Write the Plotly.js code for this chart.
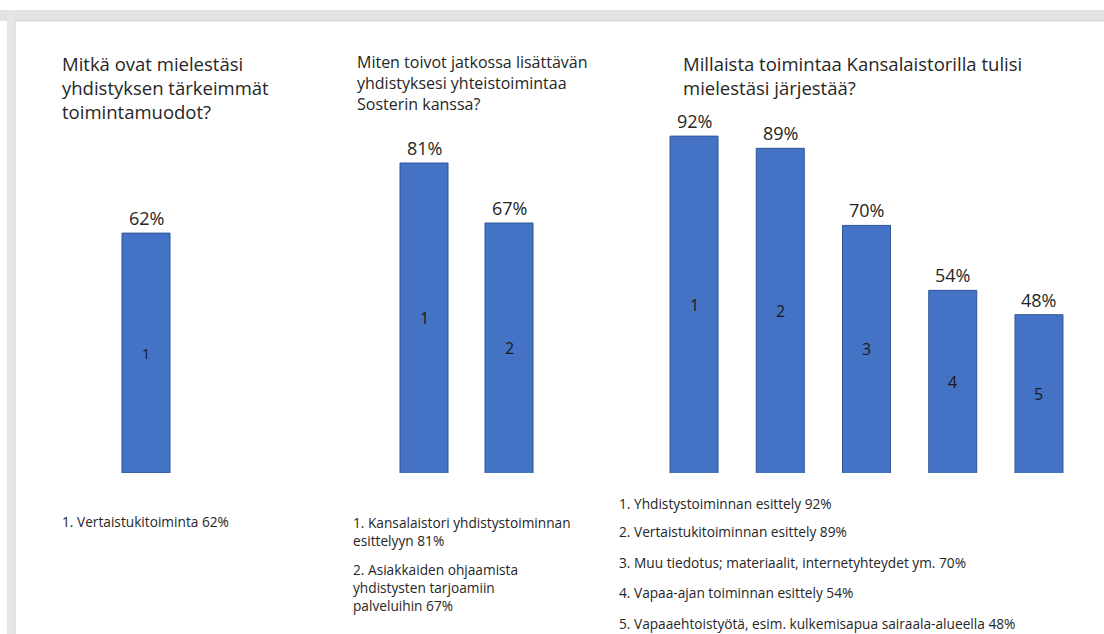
<!DOCTYPE html>
<html>
<head>
<meta charset="utf-8">
<script src="https://cdn.plot.ly/plotly-3.0.1.min.js"></script>
<style>
  html, body { margin: 0; padding: 0; background: #ffffff; }
  #chart { width: 1104px; height: 634px; }
</style>
</head>
<body>
<div id="chart"></div>
<script>
// ---- Data ----
const title1 = 'Mitkä ovat mielestäsi<br>yhdistyksen tärkeimmät<br>toimintamuodot?';
const categories1 = ['1'];
const values1 = [62];
const labels1 = ['Vertaistukitoiminta'];

const title2 = 'Miten toivot jatkossa lisättävän<br>yhdistyksesi yhteistoimintaa<br>Sosterin kanssa?';
const categories2 = ['1', '2'];
const values2 = [81, 67];
const labels2 = ['Kansalaistori yhdistystoiminnan<br>esittelyyn', 'Asiakkaiden ohjaamista<br>yhdistysten tarjoamiin<br>palveluihin'];

const title3 = 'Millaista toimintaa Kansalaistorilla tulisi<br>mielestäsi järjestää?';
const categories3 = ['1', '2', '3', '4', '5'];
const values3 = [92, 89, 70, 54, 48];
const labels3 = ['Yhdistystoiminnan esittely', 'Vertaistukitoiminnan esittely', 'Muu tiedotus; materiaalit, internetyhteydet ym.', 'Vapaa-ajan toiminnan esittely', 'Vapaaehtoistyötä, esim. kulkemisapua sairaala-alueella'];

// ---- Layout helpers ----
const W = 1104, H = 634;
const px = x => x / W;
const py = y => 1 - y / H;
const FONT = '"Open Sans", "Noto Sans", Lato, sans-serif';
const TXT = '#262626';
const BAR = '#4472C4';
const BAR_LINE = '#2F5597';

const panels = [
  { title: title1, cats: categories1, vals: values1, labels: labels1,
    xDom: [103, 189], yRange: [0, 96.4], width: 48 / 86, inSize: 14,
    titleX: 60, titleTop: 49, titleSize: 18.5,
    listX: 60, listTops: [510], listSize: 13.7 },
  { title: title2, cats: categories2, vals: values2, labels: labels2,
    xDom: [381.5, 551.5], yRange: [8.67, 95.7], width: 48 / 85, inSize: 16,
    titleX: 355, titleTop: 49, titleSize: 16,
    listX: 350.5, listTops: [510.5, 557.5], listSize: 13.7 },
  { title: title3, cats: categories3, vals: values3, labels: labels3,
    xDom: [650.9, 1082.1], yRange: [9, 100.9], width: 48 / 86.25, inSize: 16,
    titleX: 680.5, titleTop: 49, titleSize: 18.5,
    listX: 617, listTops: [492, 520, 550.5, 581, 611.5], listSize: 13.7 }
];

const plotTop = 100, plotBottom = 473;
const traces = [];
const annotations = [];
const layout = {
  width: W, height: H,
  margin: { l: 0, r: 0, t: 0, b: 0, pad: 0 },
  paper_bgcolor: '#ffffff',
  plot_bgcolor: 'rgba(0,0,0,0)',
  showlegend: false,
  font: { family: FONT, color: TXT },
  shapes: [
    // window frame (grey bands)
    { type: 'rect', xref: 'paper', yref: 'paper', x0: 0, x1: 1, y0: py(21), y1: py(10),
      fillcolor: '#e3e3e3', line: { width: 0 }, layer: 'below' },
    { type: 'rect', xref: 'paper', yref: 'paper', x0: px(7), x1: px(15), y0: 0, y1: py(10),
      fillcolor: '#e6e6e6', line: { width: 0 }, layer: 'below' },
    { type: 'line', xref: 'paper', yref: 'paper', x0: px(15), x1: 1, y0: py(21), y1: py(21),
      line: { color: '#d4d4d4', width: 1 } },
    { type: 'line', xref: 'paper', yref: 'paper', x0: px(15), x1: px(15), y0: 0, y1: py(21),
      line: { color: '#d4d4d4', width: 1 } }
  ],
  annotations: annotations
};

panels.forEach((p, i) => {
  const n = i === 0 ? '' : String(i + 1);
  const xa = 'x' + n, ya = 'y' + n;
  traces.push({
    type: 'bar',
    x: p.cats, y: p.vals,
    xaxis: xa, yaxis: ya,
    width: p.width,
    marker: { color: BAR, line: { color: BAR_LINE, width: 1 } },
    textposition: 'none',
    hoverinfo: 'skip',
    cliponaxis: true
  });
  layout['xaxis' + n] = {
    domain: [px(p.xDom[0]), px(p.xDom[1])],
    anchor: ya, type: 'category', visible: false, fixedrange: true,
    range: [-0.5, p.cats.length - 0.5], autorange: false
  };
  layout['yaxis' + n] = {
    domain: [py(plotBottom), py(plotTop)],
    anchor: xa, range: p.yRange, autorange: false, visible: false, fixedrange: true
  };
  p.cats.forEach((c, k) => {
    // value labels above bars
    annotations.push({
      xref: xa, yref: ya, x: k, y: p.vals[k],
      text: p.vals[k] + '%', showarrow: false,
      yanchor: 'bottom', xanchor: 'center', yshift: 1,
      font: { family: FONT, size: 18, color: TXT }
    });
    // category number in the middle of the visible bar
    annotations.push({
      xref: xa, yref: ya, x: k, y: (p.yRange[0] + p.vals[k]) / 2,
      text: c, showarrow: false,
      yanchor: 'middle', xanchor: 'center',
      font: { family: FONT, size: p.inSize, color: '#1a1a1a' }
    });
  });
  // panel title
  annotations.push({
    xref: 'paper', yref: 'paper', x: px(p.titleX), y: py(p.titleTop),
    xanchor: 'left', yanchor: 'top', align: 'left', showarrow: false,
    text: p.title, font: { family: FONT, size: p.titleSize, color: TXT }
  });
  // list below the chart
  p.labels.forEach((lab, k) => {
    annotations.push({
      xref: 'paper', yref: 'paper', x: px(p.listX), y: py(p.listTops[k]),
      xanchor: 'left', yanchor: 'top', align: 'left', showarrow: false,
      text: (k + 1) + '. ' + lab + ' ' + p.vals[k] + '%',
      font: { family: FONT, size: p.listSize, color: TXT }
    });
  });
});

Plotly.newPlot('chart', traces, layout, { displayModeBar: false, staticPlot: true });
</script>
</body>
</html>
